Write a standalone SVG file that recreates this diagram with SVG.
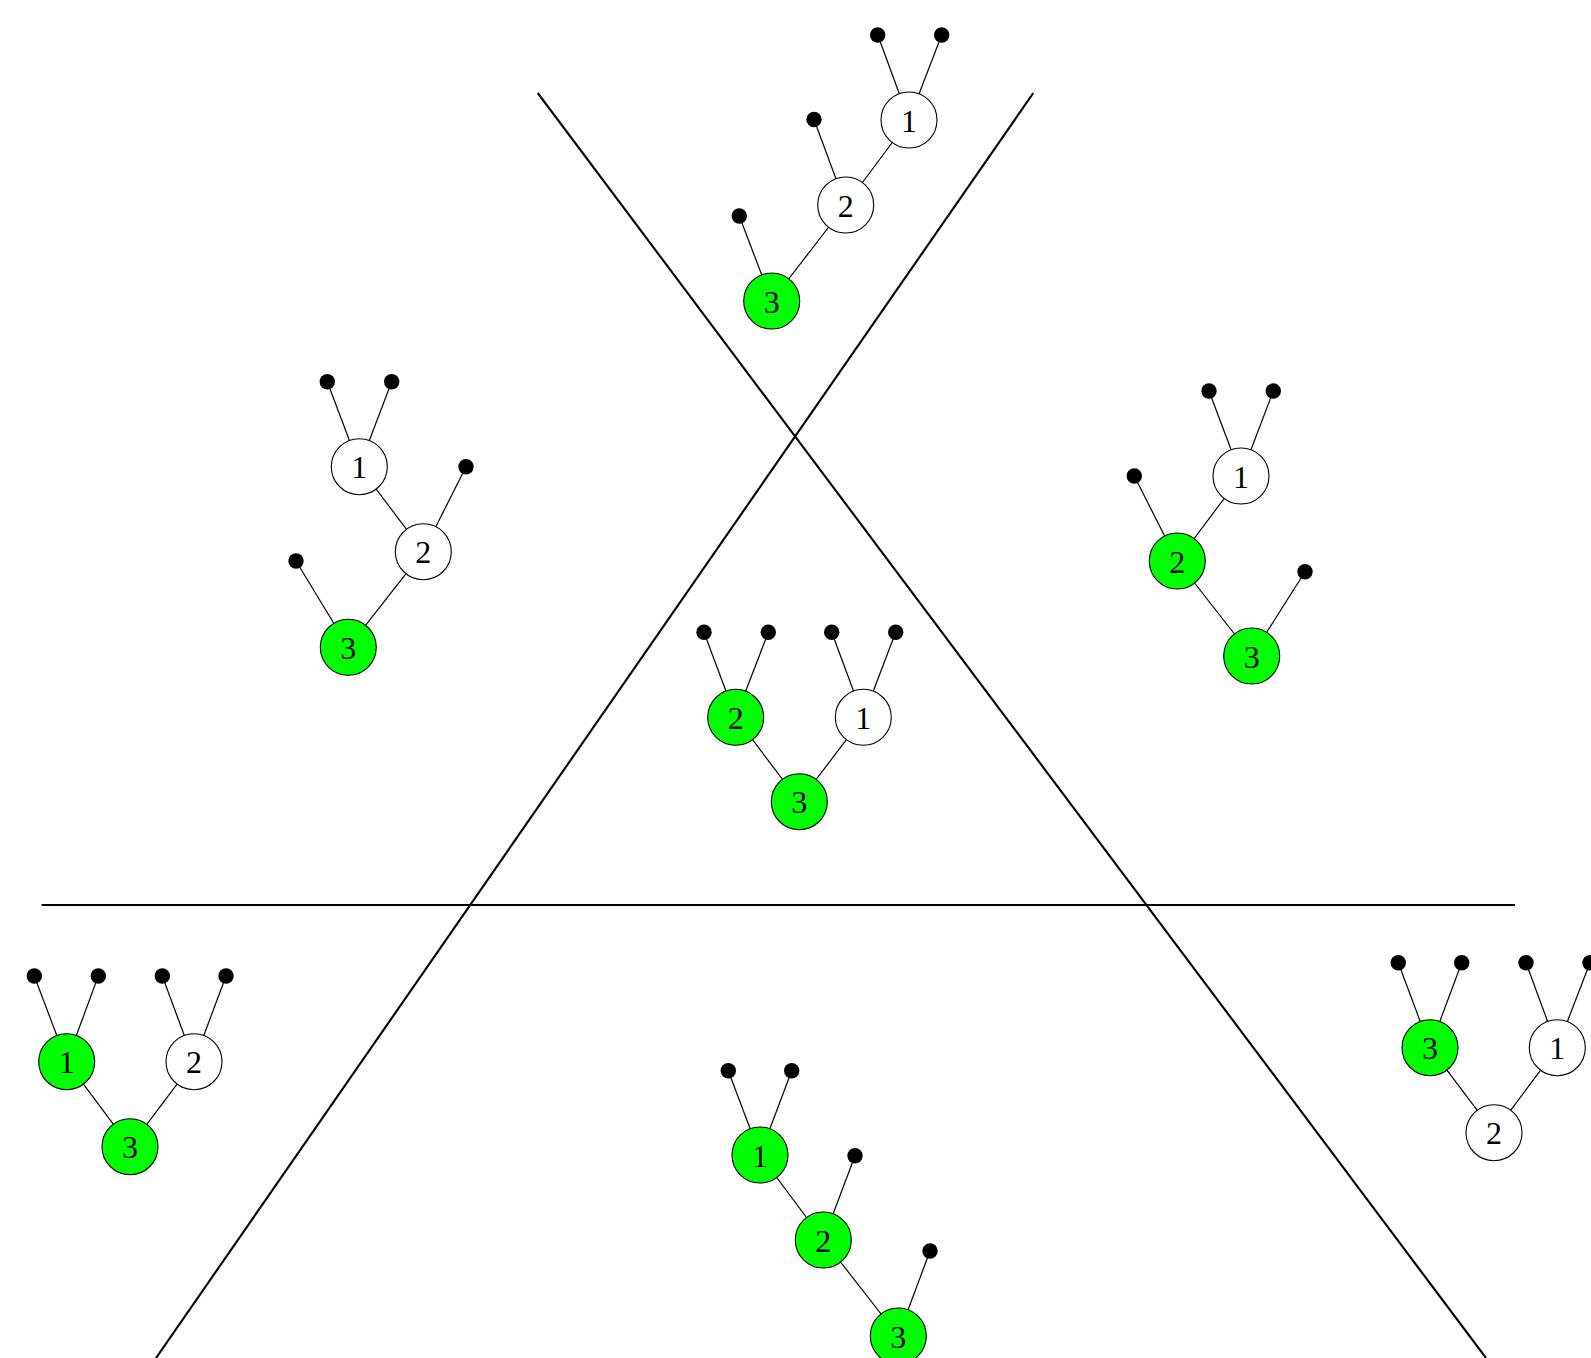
<svg xmlns="http://www.w3.org/2000/svg" width="1591" height="1358" viewBox="0 0 1591 1358">
<style>
.main{stroke:#000;stroke-width:2.1;fill:none}
.e{stroke:#000;stroke-width:1.2}
.n{stroke:#000;stroke-width:1.1}
.w{fill:#fff}
.g{fill:#00ff00}
.leaf{fill:#000}
text{font-family:"Liberation Serif","DejaVu Serif",serif;font-size:32px;text-anchor:middle;fill:#000}
</style>
<rect width="1591" height="1358" fill="#fff"/>
<g id="dividers">
<line class="main" x1="537.7" y1="93" x2="1486" y2="1358"/>
<line class="main" x1="1033.3" y1="93" x2="156" y2="1358"/>
<line class="main" x1="41.6" y1="905" x2="1515" y2="905"/>
</g>
<g id="connectors">
<line class="e" x1="909" y1="120" x2="877.7" y2="35"/>
<line class="e" x1="909" y1="120" x2="941.7" y2="35"/>
<line class="e" x1="909" y1="120" x2="845.7" y2="205"/>
<line class="e" x1="845.7" y1="205" x2="814" y2="119.5"/>
<line class="e" x1="845.7" y1="205" x2="771.7" y2="301"/>
<line class="e" x1="771.7" y1="301" x2="739.3" y2="216"/>
<line class="e" x1="359.3" y1="466.7" x2="327.3" y2="381.7"/>
<line class="e" x1="359.3" y1="466.7" x2="391.7" y2="381.7"/>
<line class="e" x1="359.3" y1="466.7" x2="423.3" y2="551.7"/>
<line class="e" x1="423.3" y1="551.7" x2="466" y2="466.7"/>
<line class="e" x1="423.3" y1="551.7" x2="348.3" y2="647.3"/>
<line class="e" x1="348.3" y1="647.3" x2="296" y2="561"/>
<line class="e" x1="1241" y1="476" x2="1209" y2="391"/>
<line class="e" x1="1241" y1="476" x2="1273.3" y2="391"/>
<line class="e" x1="1241" y1="476" x2="1177.3" y2="561"/>
<line class="e" x1="1177.3" y1="561" x2="1134.3" y2="476"/>
<line class="e" x1="1177.3" y1="561" x2="1251.7" y2="656"/>
<line class="e" x1="1251.7" y1="656" x2="1305" y2="571.7"/>
<line class="e" x1="735.7" y1="717.3" x2="704" y2="632.3"/>
<line class="e" x1="735.7" y1="717.3" x2="768.3" y2="632.3"/>
<line class="e" x1="863.3" y1="717.3" x2="831.7" y2="632.3"/>
<line class="e" x1="863.3" y1="717.3" x2="895.7" y2="632.3"/>
<line class="e" x1="735.7" y1="717.3" x2="799.3" y2="801.7"/>
<line class="e" x1="863.3" y1="717.3" x2="799.3" y2="801.7"/>
<line class="e" x1="66.7" y1="1061.7" x2="34.3" y2="976"/>
<line class="e" x1="66.7" y1="1061.7" x2="98.3" y2="976"/>
<line class="e" x1="194" y1="1061.7" x2="162.3" y2="976"/>
<line class="e" x1="194" y1="1061.7" x2="226" y2="976"/>
<line class="e" x1="66.7" y1="1061.7" x2="130" y2="1146.7"/>
<line class="e" x1="194" y1="1061.7" x2="130" y2="1146.7"/>
<line class="e" x1="1430" y1="1047.7" x2="1398.3" y2="962.7"/>
<line class="e" x1="1430" y1="1047.7" x2="1461.7" y2="962.7"/>
<line class="e" x1="1557.3" y1="1047.7" x2="1526" y2="962.7"/>
<line class="e" x1="1557.3" y1="1047.7" x2="1590" y2="962.7"/>
<line class="e" x1="1430" y1="1047.7" x2="1494" y2="1132.7"/>
<line class="e" x1="1557.3" y1="1047.7" x2="1494" y2="1132.7"/>
<line class="e" x1="760" y1="1155" x2="728.3" y2="1070.7"/>
<line class="e" x1="760" y1="1155" x2="791.7" y2="1070.7"/>
<line class="e" x1="760" y1="1155" x2="823.3" y2="1240"/>
<line class="e" x1="823.3" y1="1240" x2="855" y2="1155.7"/>
<line class="e" x1="823.3" y1="1240" x2="898.3" y2="1336"/>
<line class="e" x1="898.3" y1="1336" x2="930" y2="1251"/>
</g>
<g id="leaves">
<circle class="leaf" cx="877.7" cy="35" r="7.7"/>
<circle class="leaf" cx="941.7" cy="35" r="7.7"/>
<circle class="leaf" cx="814" cy="119.5" r="7.7"/>
<circle class="leaf" cx="739.3" cy="216" r="7.7"/>
<circle class="leaf" cx="327.3" cy="381.7" r="7.7"/>
<circle class="leaf" cx="391.7" cy="381.7" r="7.7"/>
<circle class="leaf" cx="466" cy="466.7" r="7.7"/>
<circle class="leaf" cx="296" cy="561" r="7.7"/>
<circle class="leaf" cx="1209" cy="391" r="7.7"/>
<circle class="leaf" cx="1273.3" cy="391" r="7.7"/>
<circle class="leaf" cx="1134.3" cy="476" r="7.7"/>
<circle class="leaf" cx="1305" cy="571.7" r="7.7"/>
<circle class="leaf" cx="704" cy="632.3" r="7.7"/>
<circle class="leaf" cx="768.3" cy="632.3" r="7.7"/>
<circle class="leaf" cx="831.7" cy="632.3" r="7.7"/>
<circle class="leaf" cx="895.7" cy="632.3" r="7.7"/>
<circle class="leaf" cx="34.3" cy="976" r="7.7"/>
<circle class="leaf" cx="98.3" cy="976" r="7.7"/>
<circle class="leaf" cx="162.3" cy="976" r="7.7"/>
<circle class="leaf" cx="226" cy="976" r="7.7"/>
<circle class="leaf" cx="1398.3" cy="962.7" r="7.7"/>
<circle class="leaf" cx="1461.7" cy="962.7" r="7.7"/>
<circle class="leaf" cx="1526" cy="962.7" r="7.7"/>
<circle class="leaf" cx="1590" cy="962.7" r="7.7"/>
<circle class="leaf" cx="728.3" cy="1070.7" r="7.7"/>
<circle class="leaf" cx="791.7" cy="1070.7" r="7.7"/>
<circle class="leaf" cx="855" cy="1155.7" r="7.7"/>
<circle class="leaf" cx="930" cy="1251" r="7.7"/>
</g>
<g id="top-1"><circle class="n w" cx="909" cy="120" r="28"/><text x="909" y="131.5">1</text></g>
<g id="top-2"><circle class="n w" cx="845.7" cy="205" r="28"/><text x="845.7" y="216.5">2</text></g>
<g id="top-3"><circle class="n g" cx="771.7" cy="301" r="28"/><text x="771.7" y="312.5">3</text></g>
<g id="left-1"><circle class="n w" cx="359.3" cy="466.7" r="28"/><text x="359.3" y="478.2">1</text></g>
<g id="left-2"><circle class="n w" cx="423.3" cy="551.7" r="28"/><text x="423.3" y="563.2">2</text></g>
<g id="left-3"><circle class="n g" cx="348.3" cy="647.3" r="28"/><text x="348.3" y="658.8">3</text></g>
<g id="right-1"><circle class="n w" cx="1241" cy="476" r="28"/><text x="1241" y="487.5">1</text></g>
<g id="right-2"><circle class="n g" cx="1177.3" cy="561" r="28"/><text x="1177.3" y="572.5">2</text></g>
<g id="right-3"><circle class="n g" cx="1251.7" cy="656" r="28"/><text x="1251.7" y="667.5">3</text></g>
<g id="center-2"><circle class="n g" cx="735.7" cy="717.3" r="28"/><text x="735.7" y="728.8">2</text></g>
<g id="center-1"><circle class="n w" cx="863.3" cy="717.3" r="28"/><text x="863.3" y="728.8">1</text></g>
<g id="center-3"><circle class="n g" cx="799.3" cy="801.7" r="28"/><text x="799.3" y="813.2">3</text></g>
<g id="bl-1"><circle class="n g" cx="66.7" cy="1061.7" r="28"/><text x="66.7" y="1073.2">1</text></g>
<g id="bl-2"><circle class="n w" cx="194" cy="1061.7" r="28"/><text x="194" y="1073.2">2</text></g>
<g id="bl-3"><circle class="n g" cx="130" cy="1146.7" r="28"/><text x="130" y="1158.2">3</text></g>
<g id="br-3"><circle class="n g" cx="1430" cy="1047.7" r="28"/><text x="1430" y="1059.2">3</text></g>
<g id="br-1"><circle class="n w" cx="1557.3" cy="1047.7" r="28"/><text x="1557.3" y="1059.2">1</text></g>
<g id="br-2"><circle class="n w" cx="1494" cy="1132.7" r="28"/><text x="1494" y="1144.2">2</text></g>
<g id="bottom-1"><circle class="n g" cx="760" cy="1155" r="28"/><text x="760" y="1166.5">1</text></g>
<g id="bottom-2"><circle class="n g" cx="823.3" cy="1240" r="28"/><text x="823.3" y="1251.5">2</text></g>
<g id="bottom-3"><circle class="n g" cx="898.3" cy="1336" r="28"/><text x="898.3" y="1347.5">3</text></g>
</svg>
